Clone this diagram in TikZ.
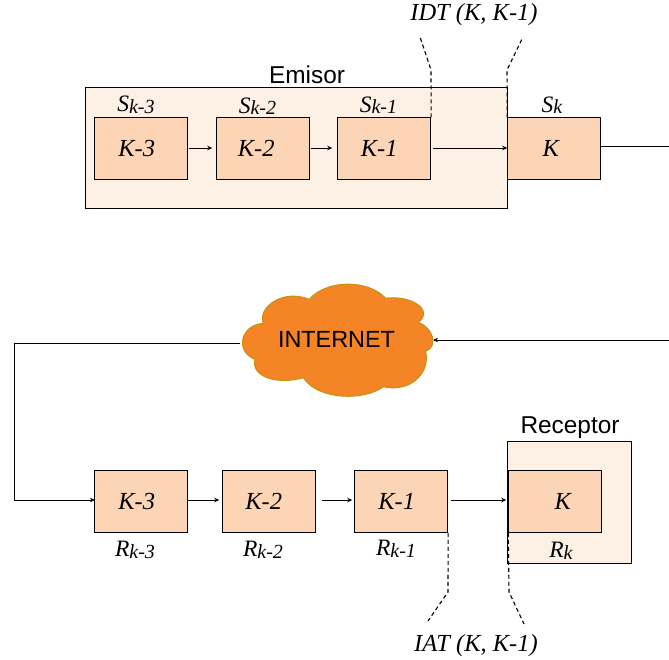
\documentclass[tikz,border=0pt]{standalone}
\usepackage{fontspec}
\setmainfont{Liberation Serif}
\setsansfont{Liberation Sans}
\usetikzlibrary{arrows.meta}
\definecolor{boxfill}{HTML}{FBD5B5}
\definecolor{panelfill}{HTML}{FDF0E5}
\definecolor{cloudfill}{HTML}{F58426}
\definecolor{cloudline}{HTML}{C8910F}
\newcommand{\lab}[2]{{\fontsize{23.5}{23.5}\selectfont\itshape #1\raisebox{-1.5pt}{\fontsize{20}{20}\selectfont #2}}}
\tikzset{
  pkt/.style={draw=black,line width=1.2pt,fill=boxfill,minimum width=92.7pt,minimum height=61.7pt,inner sep=0pt,font=\fontsize{24.5}{24.5}\selectfont\itshape},
  panel/.style={draw=black,line width=1.2pt,fill=panelfill,anchor=north west,inner sep=0pt},
  flow/.style={line width=1pt,-{Stealth[length=5pt,width=4.5pt]}},
  plainline/.style={line width=1pt},
  gap/.style={line width=1.1pt,dash pattern=on 4pt off 3pt},
  title/.style={font=\sffamily\fontsize{24.4}{24.4}\selectfont,inner sep=0pt},
  cloudtext/.style={font=\sffamily\fontsize{23.4}{23.4}\selectfont,inner sep=0pt},
  note/.style={font=\fontsize{24.5}{24.5}\selectfont\itshape,inner sep=0pt},
  sub/.style={inner sep=0pt}
}
\begin{document}
\begin{tikzpicture}[x=1pt,y=-1pt]
\useasboundingbox (0,0) rectangle (669,659);
% panels
\node[panel,minimum width=422pt,minimum height=121pt] (emisor) at (84.6,86.6) {};
\node[panel,minimum width=124pt,minimum height=122pt] (receptor) at (506.8,440.8) {};
\node[title] (emisorT) at (307,75) {Emisor};
\node[title] (receptorT) at (570,428) {Receptor};
% top packets
\node[pkt] (s3) at (141.2,148.7) {\hspace*{-9pt}K-3};
\node[pkt] (s2) at (263.2,148.7) {\hspace*{-14pt}K-2};
\node[pkt] (s1) at (384.2,148.7) {\hspace*{-10pt}K-1};
\node[pkt] (s0) at (554.2,148.7) {\hspace*{-7pt}K};
% top labels
\node[sub] (ls3) at (136,105) {\lab{S}{k-3}};
\node[sub] (ls2) at (257.5,106) {\lab{S}{k-2}};
\node[sub] (ls1) at (378.5,105) {\lab{S}{k-1}};
\node[sub] (ls0) at (552,105) {\lab{S}{k}};
% bottom packets
\node[pkt] (r3) at (141.2,501.3) {\hspace*{-9pt}K-3};
\node[pkt] (r2) at (269.2,501.3) {\hspace*{-11pt}K-2};
\node[pkt] (r1) at (401.2,501.3) {\hspace*{-9pt}K-1};
\node[pkt] (r0) at (555.2,501.3) {\hspace*{15pt}K};
% bottom labels
\node[sub] (lr3) at (135,550) {\lab{R}{k-3}};
\node[sub] (lr2) at (263,550) {\lab{R}{k-2}};
\node[sub] (lr1) at (396,549) {\lab{R}{k-1}};
\node[sub] (lr0) at (561,551) {\lab{R}{k}};
% notes
\node[note] (idt) at (474,15) {IDT (K, K-1)};
\node[note] (iat) at (476,646) {IAT (K, K-1)};
% cloud
\fill[cloudfill,draw=cloudline,line width=1.1pt,x=0.3333pt,y=-0.3333pt,shift={(220pt,-270pt)}]
  (130,160) .. controls (112,115) and (185,55) .. (268,88)
  .. controls (320,28) and (445,28) .. (497,85)
  .. controls (565,75) and (645,115) .. (595,158)
  .. controls (640,172) and (655,232) .. (617,243)
  .. controls (632,315) and (565,368) .. (490,350)
  .. controls (435,392) and (295,392) .. (250,323)
  .. controls (175,345) and (92,322) .. (105,268)
  .. controls (45,245) and (60,165) .. (130,160) -- cycle;
\node[cloudtext] (cloud) at (336.5,339) {INTERNET};
% named free ends
\coordinate (rightT) at (669,146);
\coordinate (rightB) at (669,340);
\coordinate (cloudR) at (433,340);
\coordinate (cloudL) at (240,343);
\coordinate (cornerA) at (14,343);
\coordinate (cornerB) at (14,500);
\coordinate (r3in) at (95,500);
\coordinate (a1) at (431,70);
\coordinate (a2) at (420,37);
\coordinate (b1) at (507,70);
\coordinate (b2) at (523,37);
\coordinate (c1) at (448,592);
\coordinate (c2) at (428,621);
\coordinate (d1) at (509,592);
\coordinate (d2) at (524,624);
% connectors
\draw[flow,shorten <=0.5pt,shorten >=4pt] (s3.east |- 0,148) -- (s2.west |- 0,148);
\draw[flow,shorten <=0.5pt,shorten >=5pt] (s2.east |- 0,148) -- (s1.west |- 0,148);
\draw[flow,shorten <=2pt] (s1.east |- 0,148) -- (s0.west |- 0,148);
\draw[plainline] (s0.east |- rightT) -- (rightT);
\draw[flow] (rightB) -- (cloudR);
\draw[flow] (cloudL) -- (cornerA) -- (cornerB) -- (r3in);
\draw[flow,shorten >=3pt] (r3.east |- 0,500) -- (r2.west |- 0,500);
\draw[flow,shorten <=6pt,shorten >=2pt] (r2.east |- 0,500) -- (r1.west |- 0,500);
\draw[flow,shorten <=3pt,shorten >=2pt] (r1.east |- 0,500) -- (r0.west |- 0,500);
% dashed guides
\draw[gap] (s1.north east) -- (a1) -- (a2);
\draw[gap] (s0.north west) -- (b1) -- (b2);
\draw[gap] (r1.south east) -- (c1) -- (c2);
\draw[gap] (r0.south west) -- (d1) -- (d2);
\end{tikzpicture}
\end{document}
